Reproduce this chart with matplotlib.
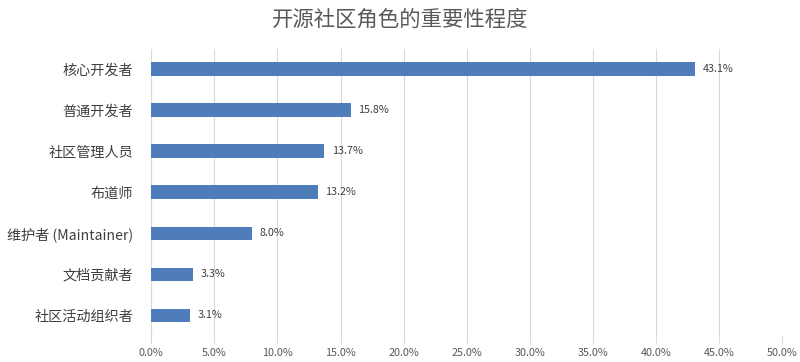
import matplotlib
matplotlib.use("Agg")
import matplotlib.pyplot as plt
from matplotlib.ticker import FuncFormatter, MultipleLocator

plt.rcParams['font.family'] = ['Noto Sans CJK SC', 'DejaVu Sans']

categories = ["核心开发者", "普通开发者", "社区管理人员", "布道师", "维护者 (Maintainer)", "文档贡献者", "社区活动组织者"]
values = [43.1, 15.8, 13.7, 13.2, 8.0, 3.3, 3.1]
title = "开源社区角色的重要性程度"

fig = plt.figure(figsize=(8, 3.62), dpi=100)
ax = fig.add_axes([0.189, 0.072, 0.789, 0.794])

n = len(categories)
ypos = list(range(n))[::-1]
ax.barh(ypos, values, height=0.33, color="#4F7DBB", zorder=3)
for y, v in zip(ypos, values):
    ax.text(v + 0.6, y, f"{v:.1f}%", va="center", ha="left", fontsize=7.8, color="#404040", zorder=4)

ax.set_xlim(0, 50)
ax.set_ylim(-0.5, n - 0.5)
ax.set_yticks(ypos)
ax.set_yticklabels(categories, fontsize=10.2, color="#404040")
ax.xaxis.set_major_locator(MultipleLocator(5))
ax.xaxis.set_major_formatter(FuncFormatter(lambda x, p: f"{x:.1f}%"))
ax.tick_params(axis='x', labelsize=7.8, colors="#595959", length=6, width=0.8, color="#D9D9D9", pad=3)
ax.tick_params(axis='y', length=0, pad=13)
ax.grid(axis='x', color="#D9D9D9", linewidth=0.8, zorder=0)
for s in ['top', 'right', 'bottom']:
    ax.spines[s].set_visible(False)
ax.spines['left'].set_color("#D9D9D9")
ax.spines['left'].set_linewidth(0.8)

fig.suptitle(title, y=0.975, fontsize=15.4, color="#595959")
fig.savefig("out.png", dpi=100)
